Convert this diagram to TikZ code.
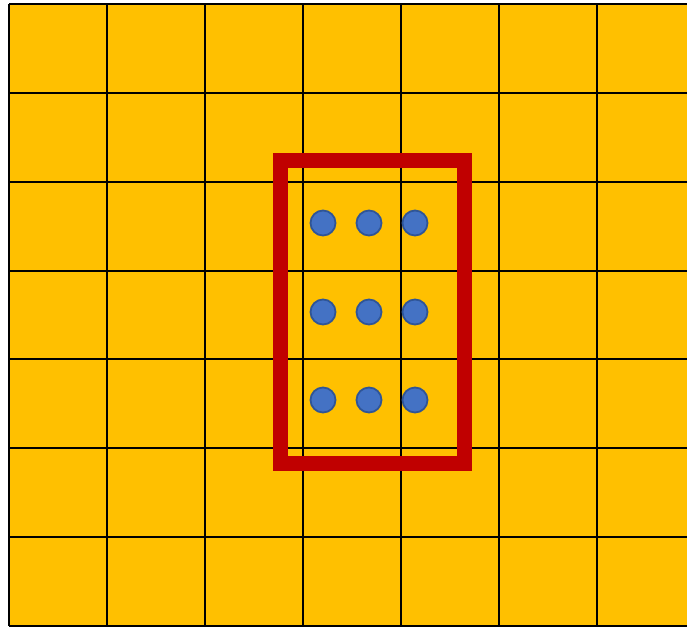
\documentclass[tikz,border=0pt]{standalone}
\definecolor{gold}{HTML}{FFC000}
\definecolor{darkred}{HTML}{C00000}
\definecolor{dotfill}{HTML}{4472C4}
\definecolor{dotline}{HTML}{2F5597}
\tikzset{
  gridline/.style={line width=2.8pt, black},
  frame/.style={line width=15pt, darkred, line join=miter},
  dot/.style={circle, fill=dotfill, draw=dotline, line width=1.8pt, minimum size=25pt, inner sep=0pt}
}
\begin{document}
\begin{tikzpicture}[x=1pt,y=-1pt]
\useasboundingbox (0,0) rectangle (687,627);
\fill[white] (0,0) rectangle (687,627);
\fill[gold] (9,4) rectangle (687,626);
\foreach \x in {9,107,205,303,401,499,597}
  \draw[gridline] (\x,4) -- (\x,626);
\foreach \y in {4,93,182,271,359,448,537,626}
  \draw[gridline] (9,\y) -- (687,\y);
\draw[frame] (280,160) rectangle (464,463);
\foreach \i/\x in {1/323,2/369,3/415}
  \foreach \j/\y in {1/223,2/312,3/400}
    \node[dot] (d\i\j) at (\x,\y) {};
\end{tikzpicture}
\end{document}
